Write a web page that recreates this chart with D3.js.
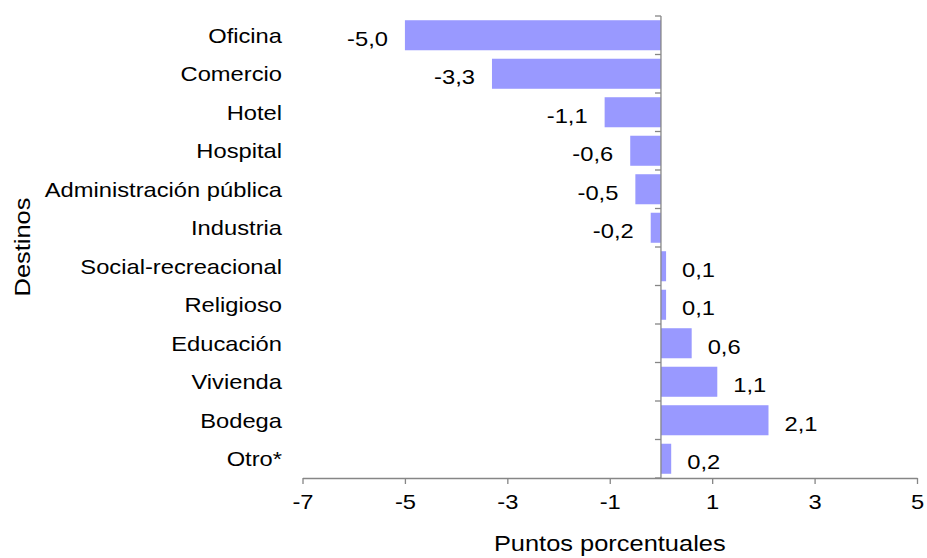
<!DOCTYPE html>
<html>
<head>
<meta charset="utf-8">
<script src="https://cdn.jsdelivr.net/npm/d3@7"></script>
<style>
  html, body { margin: 0; padding: 0; background: #fff; }
  svg { display: block; font-family: "Liberation Sans", Arial, sans-serif; }
</style>
</head>
<body>
<svg id="chart" width="927" height="558"></svg>
<script>
// Variación por destino, en puntos porcentuales
const categories = [
  "Oficina", "Comercio", "Hotel", "Hospital", "Administración pública",
  "Industria", "Social-recreacional", "Religioso", "Educación",
  "Vivienda", "Bodega", "Otro*"
];
const values = [-5.0, -3.3, -1.1, -0.6, -0.5, -0.2, 0.1, 0.1, 0.6, 1.1, 2.1, 0.2];
const xTicks = [-7, -5, -3, -1, 1, 3, 5];
const xTitle = "Puntos porcentuales";
const yTitle = "Destinos";

const data = categories.map((c, i) => ({ cat: c, val: values[i] }));

const svg = d3.select("#chart");
const stretch = 1.13;          // wide glyph advance of the labels
const labelSize = 21;
const titleSize = 22.5;
const axisColor = "#868686";
const barColor = "#9999FF";
const fmt = v => d3.format(".1f")(v).replace(".", ",").replace("−", "-");

const x = d3.scaleLinear().domain([-7, 5]).range([302.5, 917]);
const y = d3.scaleBand().domain(categories).range([16, 478])
  .paddingInner(0.22).paddingOuter(0.11);
const x0 = x(0);
const yBottom = 478;

// Bars
svg.append("g").selectAll("rect").data(data).join("rect")
  .attr("x", d => x(Math.min(0, d.val)))
  .attr("width", d => Math.abs(x(d.val) - x0))
  .attr("y", d => y(d.cat))
  .attr("height", y.bandwidth())
  .attr("fill", barColor);

// X axis
const xAxis = svg.append("g")
  .attr("transform", `translate(0,${yBottom})`)
  .call(d3.axisBottom(x).tickValues(xTicks).tickSize(6).tickPadding(10)
    .tickFormat(d => String(d)).tickSizeOuter(0));
xAxis.select(".domain").attr("stroke", axisColor).attr("stroke-width", 1.3);
xAxis.selectAll(".tick line").attr("stroke", axisColor).attr("stroke-width", 1.3);
xAxis.selectAll(".tick text")
  .attr("font-size", labelSize).attr("fill", "#000")
  .attr("font-family", "Liberation Sans, Arial, sans-serif")
  .attr("transform", `scale(${stretch},1)`);

// Vertical zero line with ticks at band boundaries
const step = y.step();
const bounds = d3.range(categories.length + 1).map(i => 16 + i * step);
const yLine = svg.append("g");
yLine.append("line")
  .attr("x1", x0).attr("x2", x0).attr("y1", 16).attr("y2", yBottom)
  .attr("stroke", axisColor).attr("stroke-width", 1.3);
yLine.selectAll("line.tk").data(bounds).join("line").attr("class", "tk")
  .attr("x1", x0 - 6).attr("x2", x0).attr("y1", d => d).attr("y2", d => d)
  .attr("stroke", axisColor).attr("stroke-width", 1.3);

// Category labels
const yAxis = svg.append("g")
  .attr("transform", "translate(282,1)")
  .call(d3.axisLeft(y).tickSize(0).tickPadding(0));
yAxis.select(".domain").remove();
yAxis.selectAll(".tick text")
  .attr("font-size", labelSize).attr("fill", "#000")
  .attr("font-family", "Liberation Sans, Arial, sans-serif")
  .attr("transform", `scale(${stretch},1)`);

// Value labels
svg.append("g").selectAll("text").data(data).join("text")
  .attr("transform", d => {
    const tx = d.val < 0 ? x(d.val) - 17 : x(d.val) + 16;
    const ty = y(d.cat) + y.bandwidth() / 2 + 3;
    return `translate(${tx},${ty}) scale(${stretch},1)`;
  })
  .attr("dy", "0.35em")
  .attr("text-anchor", d => d.val < 0 ? "end" : "start")
  .attr("font-size", labelSize).attr("fill", "#000")
  .text(d => fmt(d.val));

// Axis titles
svg.append("text")
  .attr("transform", `translate(${(x.range()[0] + x.range()[1]) / 2},551) scale(${stretch},1)`)
  .attr("text-anchor", "middle")
  .attr("font-size", titleSize).attr("fill", "#000")
  .text(xTitle);

svg.append("text")
  .attr("transform", `translate(30,247) rotate(-90) scale(${stretch},1)`)
  .attr("text-anchor", "middle")
  .attr("font-size", titleSize).attr("fill", "#000")
  .text(yTitle);
</script>
</body>
</html>
